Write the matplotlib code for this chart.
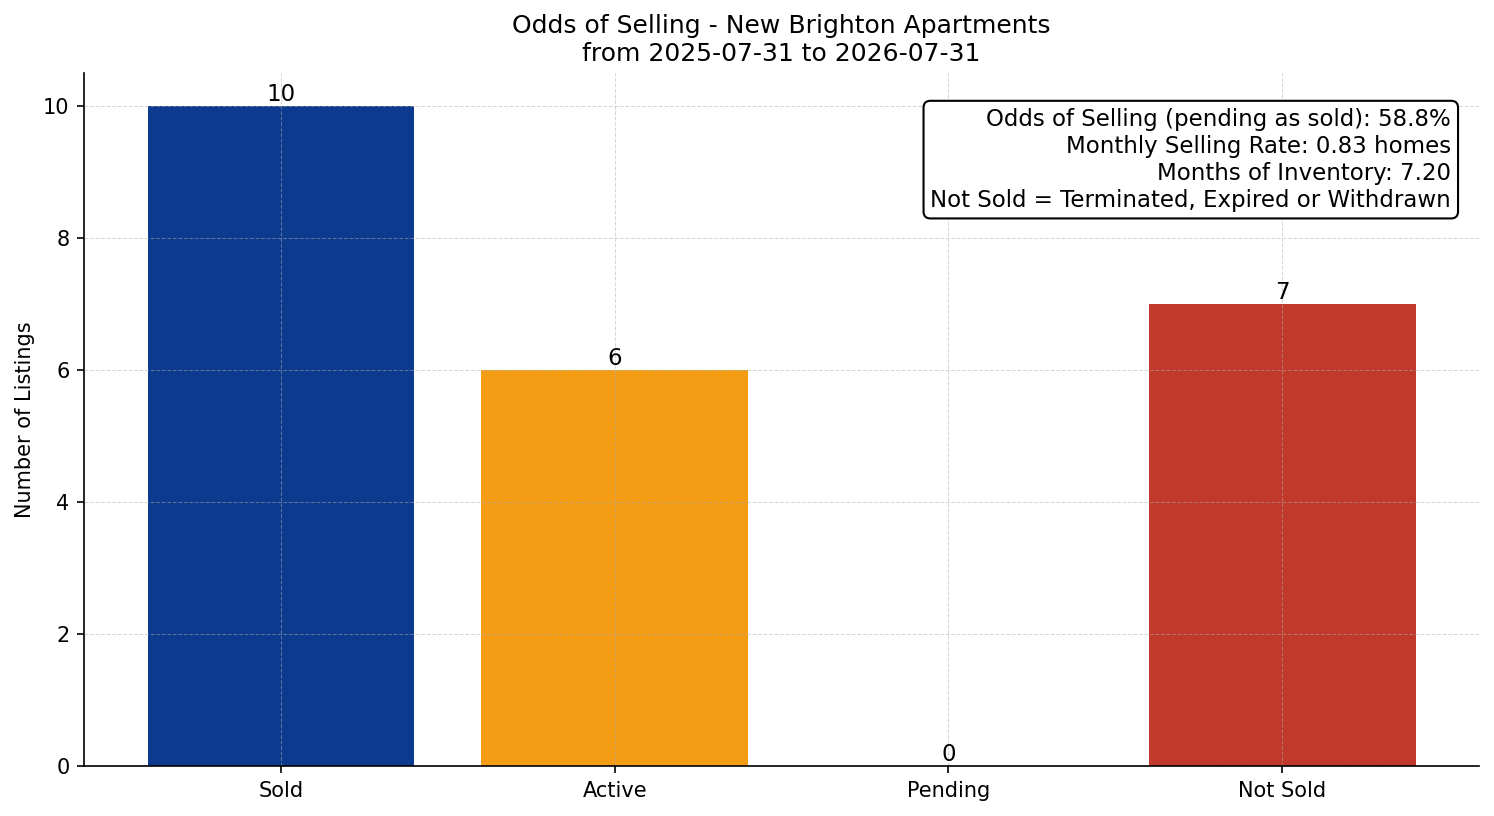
#!/usr/bin/env python3
import matplotlib

matplotlib.use("Agg")
import matplotlib.pyplot as plt  # noqa: E402

categories = ["Sold", "Active", "Pending", "Not Sold"]
counts = [10, 6, 0, 7]
bar_colors = ["#0b3a8e", "#f39c14", "#c0392b", "#c0392b"]

title = "Odds of Selling - New Brighton Apartments\nfrom 2025-07-31 to 2026-07-31"
stats_lines = [
    "Odds of Selling (pending as sold): 58.8%",
    "Monthly Selling Rate: 0.83 homes",
    "Months of Inventory: 7.20",
    "Not Sold = Terminated, Expired or Withdrawn",
]


def main() -> None:
    fig, ax = plt.subplots(figsize=(9.96, 5.44), dpi=150)
    fig.subplots_adjust(left=0.0563, right=0.99, bottom=0.0613, top=0.9105)

    bars = ax.bar(categories, counts, color=bar_colors, width=0.8)
    for b, v in zip(bars, counts):
        ax.text(b.get_x() + b.get_width() / 2, v, f"{v}", ha="center", va="bottom", fontsize=11)

    ax.set_ylim(0, 10.5)
    ax.set_ylabel("Number of Listings", fontsize=10)
    ax.set_title(title, fontsize=12)
    ax.grid(True, linestyle="--", linewidth=0.5, alpha=0.5)
    ax.spines["top"].set_visible(False)
    ax.spines["right"].set_visible(False)

    ax.text(
        0.98, 0.95, "\n".join(stats_lines),
        transform=ax.transAxes, ha="right", va="top", fontsize=11, linespacing=1.22,
        bbox=dict(boxstyle="round,pad=0.3", facecolor="white", edgecolor="black"),
    )

    fig.savefig("out.png", dpi=150)
    plt.close(fig)


if __name__ == "__main__":
    main()
